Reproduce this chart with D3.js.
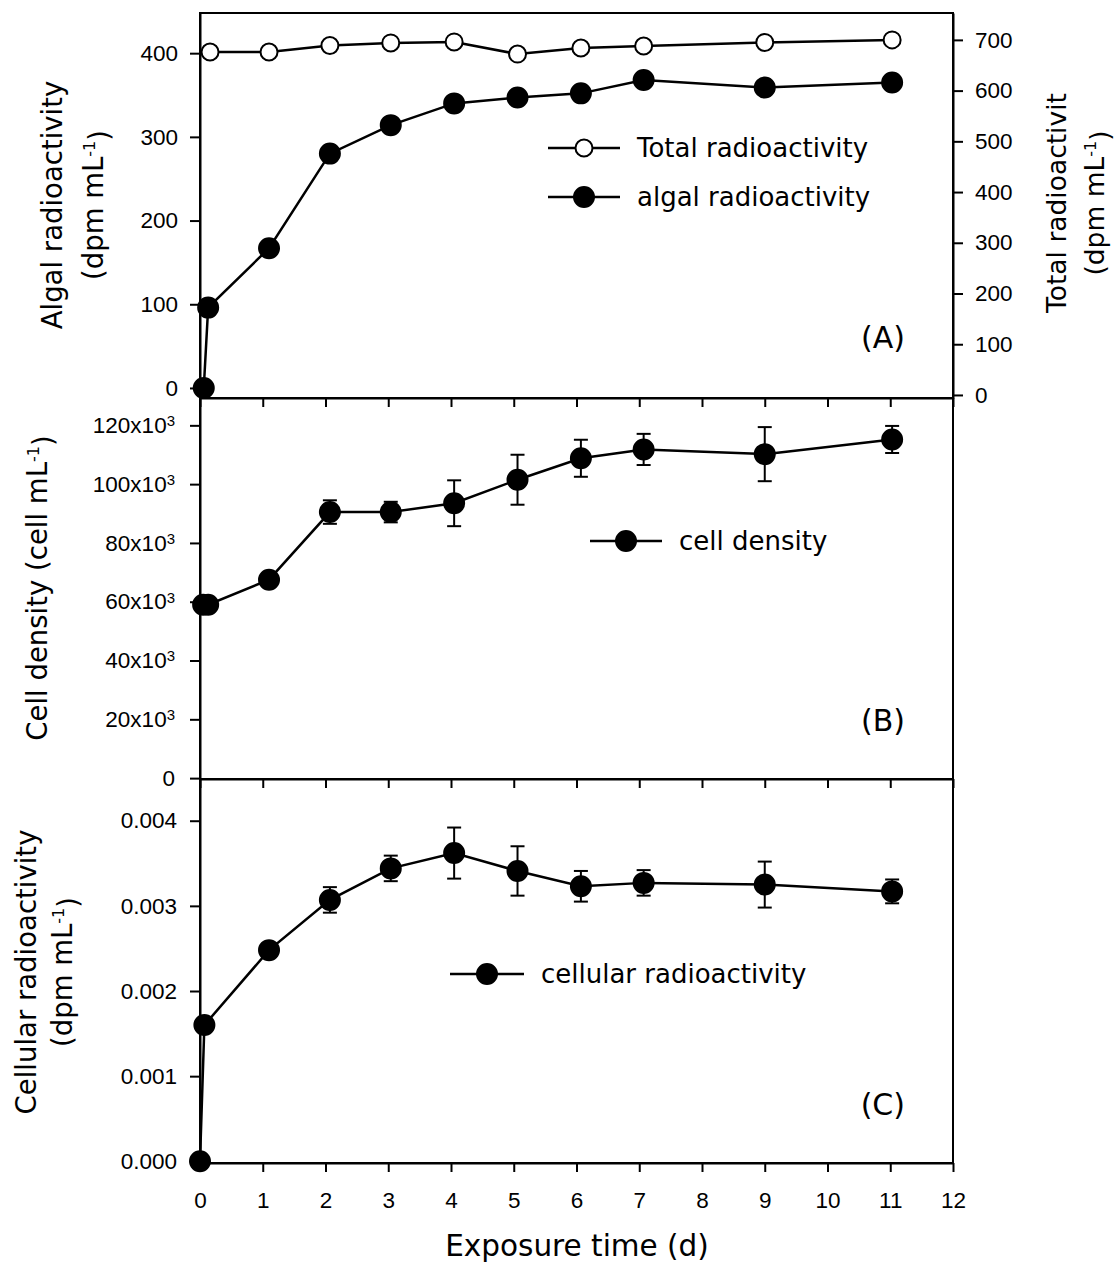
<!DOCTYPE html>
<html lang="en">
<head>
<meta charset="UTF-8">
<title>Radioactivity and cell density</title>
<script src="https://cdn.jsdelivr.net/npm/d3@7"></script>
<style>
  body { margin: 0; background: white; }
  svg { font-family: "DejaVu Sans", sans-serif; }
  .tick text { font-size: 22.5px; fill: #000; }
  .tick line, .domain { stroke: #000; stroke-width: 2; }
</style>
</head>
<body>
<div id="chart"></div>
<script>
// panel A
const algalDays = [0.06, 0.13, 1.1, 2.07, 3.04, 4.05, 5.06, 6.07, 7.07, 9.0, 11.03];
const algalValues = [0, 96, 167, 280, 314, 340, 347, 352, 368, 359, 365];
const totalDays = [0.16, 1.1, 2.07, 3.04, 4.05, 5.06, 6.07, 7.07, 9.0, 11.03];
const totalValues = [676, 676, 689, 694, 696, 672, 684, 688, 695, 700];
// panel B (cells per mL, thousands)
const cellDays = [0.05, 0.13, 1.1, 2.07, 3.04, 4.05, 5.06, 6.07, 7.07, 9.0, 11.03];
const cellValues = [59, 59, 67.5, 90.5, 90.5, 93.5, 101.5, 108.8, 111.8, 110.2, 115.2];
const cellErr = [0, 0, 0, 4, 3.5, 7.8, 8.5, 6.3, 5.3, 9.2, 4.6];
// panel C
const cellularDays = [0, 0.07, 1.1, 2.07, 3.04, 4.05, 5.06, 6.07, 7.07, 9.0, 11.03];
const cellularValues = [0, 0.0016, 0.00248, 0.00307, 0.00344, 0.00362, 0.00341, 0.00323, 0.00327, 0.00325, 0.00317];
const cellularErr = [0, 0, 0, 0.00015, 0.00015, 0.0003, 0.00029, 0.00018, 0.00015, 0.00027, 0.00014];

const xTicks = d3.range(0, 13);
const algalTicks = [0, 100, 200, 300, 400];
const totalTicks = [0, 100, 200, 300, 400, 500, 600, 700];
const cellTicks = [0, 20, 40, 60, 80, 100, 120];
const cellularTicks = [0, 0.001, 0.002, 0.003, 0.004];

const width = 1118, height = 1274;
const left = 200, right = 953;

const svg = d3.select('#chart').append('svg')
  .attr('width', width).attr('height', height);

const x = d3.scaleLinear().domain([0, 12]).range([left, right]);

const panels = [
  { top: 13, bottom: 398 },
  { top: 398, bottom: 779 },
  { top: 779, bottom: 1163 }
];

const yA = d3.scaleLinear().domain([-12, 448]).range([398, 13]);
const yA2 = d3.scaleLinear().domain([-6, 753]).range([398, 13]);
const yB = d3.scaleLinear().domain([-0.3, 129.3]).range([779, 398]);
const yC = d3.scaleLinear().domain([-0.00002, 0.00449]).range([1163, 779]);

// x axes at the bottom of each panel
panels.forEach((p, i) => {
  const ax = svg.append('g')
    .attr('transform', `translate(0,${p.bottom})`)
    .call(d3.axisBottom(x).tickValues(xTicks).tickSize(9).tickSizeOuter(0).tickPadding(20));
  if (i < 2) ax.selectAll('text').remove();
});

svg.append('g').attr('transform', `translate(${left},0)`)
  .call(d3.axisLeft(yA).tickValues(algalTicks).tickSize(10).tickSizeOuter(0).tickPadding(12));
svg.append('g').attr('transform', `translate(${right},0)`)
  .call(d3.axisRight(yA2).tickValues(totalTicks).tickSize(10).tickSizeOuter(0).tickPadding(12));

const gB = svg.append('g').attr('transform', `translate(${left},0)`)
  .call(d3.axisLeft(yB).tickValues(cellTicks).tickSize(10).tickSizeOuter(0).tickPadding(15));
gB.selectAll('.tick text').each(function(d) {
  const t = d3.select(this).text('');
  if (d === 0) { t.text('0'); return; }
  t.append('tspan').text(d + 'x10');
  t.append('tspan').attr('dy', '-0.45em').attr('font-size', '15px').text('3');
});

svg.append('g').attr('transform', `translate(${left},0)`)
  .call(d3.axisLeft(yC).tickValues(cellularTicks).tickSize(10).tickSizeOuter(0).tickPadding(13)
    .tickFormat(d3.format('.3f')));

// frames
panels.forEach(p => {
  svg.append('rect')
    .attr('x', left).attr('y', p.top)
    .attr('width', right - left).attr('height', p.bottom - p.top)
    .attr('fill', 'none').attr('stroke', '#000').attr('stroke-width', 2);
});

function drawSeries(days, values, yScale, filled, err) {
  const pts = days.map((d, i) => ({ x: d, y: values[i], e: err ? err[i] : 0 }));
  const line = d3.line().x(d => x(d.x)).y(d => yScale(d.y));
  svg.append('path').datum(pts)
    .attr('d', line).attr('fill', 'none')
    .attr('stroke', '#000').attr('stroke-width', 2.5);
  const eb = pts.filter(d => d.e > 0);
  const g = svg.append('g').attr('stroke', '#000').attr('stroke-width', 2);
  g.selectAll('.v').data(eb).join('line')
    .attr('x1', d => x(d.x)).attr('x2', d => x(d.x))
    .attr('y1', d => yScale(d.y - d.e)).attr('y2', d => yScale(d.y + d.e));
  g.selectAll('.ct').data(eb).join('line')
    .attr('x1', d => x(d.x) - 7).attr('x2', d => x(d.x) + 7)
    .attr('y1', d => yScale(d.y + d.e)).attr('y2', d => yScale(d.y + d.e));
  g.selectAll('.cb').data(eb).join('line')
    .attr('x1', d => x(d.x) - 7).attr('x2', d => x(d.x) + 7)
    .attr('y1', d => yScale(d.y - d.e)).attr('y2', d => yScale(d.y - d.e));
  svg.append('g').selectAll('circle').data(pts).join('circle')
    .attr('cx', d => x(d.x)).attr('cy', d => yScale(d.y))
    .attr('r', filled ? 10 : 8.5)
    .attr('fill', filled ? '#000' : '#fff')
    .attr('stroke', '#000').attr('stroke-width', 2);
}

drawSeries(totalDays, totalValues, yA2, false);
drawSeries(algalDays, algalValues, yA, true);
drawSeries(cellDays, cellValues, yB, true, cellErr);
drawSeries(cellularDays, cellularValues, yC, true, cellularErr);

// legends
function legendItem(x1, x2, y, filled, label) {
  svg.append('line').attr('x1', x1).attr('x2', x2).attr('y1', y).attr('y2', y)
    .attr('stroke', '#000').attr('stroke-width', 2.5);
  svg.append('circle').attr('cx', (x1 + x2) / 2).attr('cy', y)
    .attr('r', filled ? 10 : 8.5).attr('fill', filled ? '#000' : '#fff')
    .attr('stroke', '#000').attr('stroke-width', 2);
  svg.append('text').attr('x', x2 + 17).attr('y', y + 9)
    .attr('font-size', '26px').text(label);
}
legendItem(548, 620, 148, false, 'Total radioactivity');
legendItem(548, 620, 197, true, 'algal radioactivity');
legendItem(590, 662, 541, true, 'cell density');
legendItem(450, 524, 974, true, 'cellular radioactivity');

// panel labels
[['(A)', 348], ['(B)', 731], ['(C)', 1115]].forEach(([t, y]) => {
  svg.append('text').attr('x', 905).attr('y', y).attr('text-anchor', 'end')
    .attr('font-size', '30px').text(t);
});

// axis titles
function vTitle(cx, cy, gap, size, lines) {
  const t = svg.append('text').attr('transform', `translate(${cx},${cy}) rotate(-90)`)
    .attr('text-anchor', 'middle').attr('font-size', size + 'px');
  lines.forEach((ln, i) => {
    const row = t.append('tspan').attr('x', 0).attr('y', i * gap);
    if (ln.sup) {
      row.append('tspan').text(ln.text);
      row.append('tspan').attr('dy', '-0.5em').attr('font-size', '16px').text('-1');
      row.append('tspan').attr('dy', '0.5em').text(ln.after);
    } else {
      row.text(ln.text);
    }
  });
}
vTitle(62, 205, 41, 27.5, [{ text: 'Algal radioactivity' }, { text: '(dpm mL', sup: true, after: ')' }]);
vTitle(1066, 203, 38, 26.5, [{ text: 'Total radioactivit' }, { text: '(dpm mL', sup: true, after: ')' }]);
vTitle(47, 588, 0, 27.5, [{ text: 'Cell density (cell mL', sup: true, after: ')' }]);
vTitle(36, 972, 36, 27.5, [{ text: 'Cellular radioactivity' }, { text: '(dpm mL', sup: true, after: ')' }]);

svg.append('text').attr('x', 577).attr('y', 1256).attr('text-anchor', 'middle')
  .attr('font-size', '29.5px').text('Exposure time (d)');
</script>
</body>
</html>
